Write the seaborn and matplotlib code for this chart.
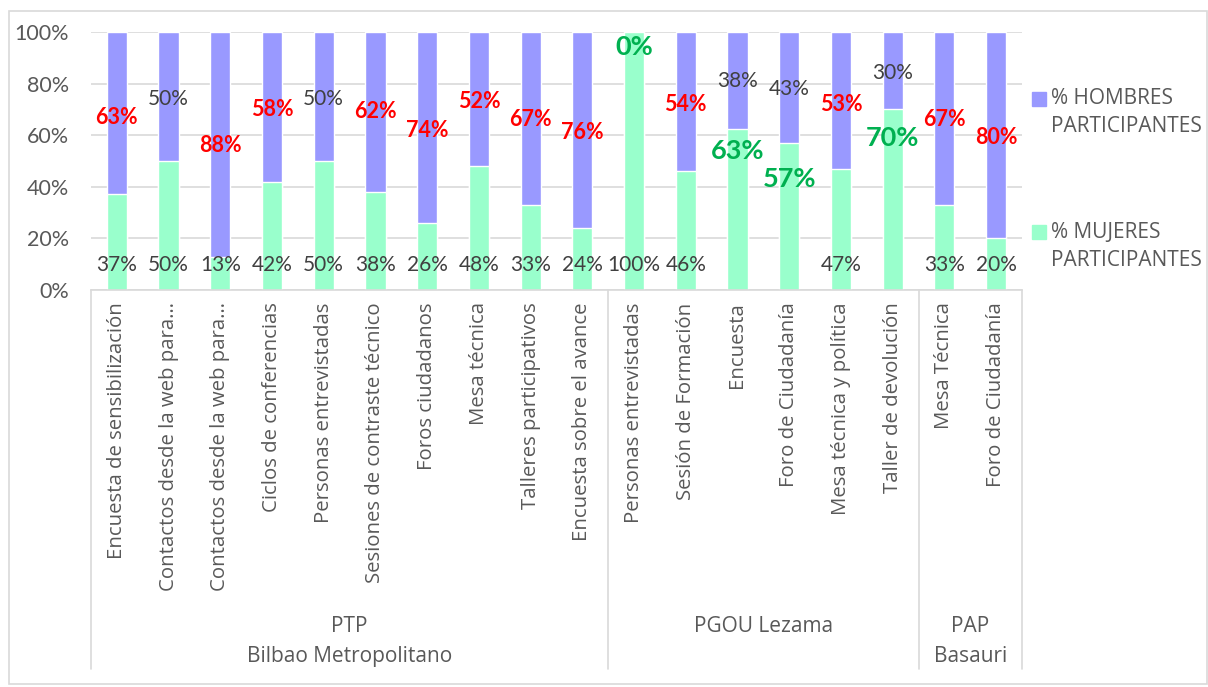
import matplotlib
matplotlib.use('Agg')
from matplotlib import pyplot as plt
from matplotlib.patches import Rectangle
import seaborn as sns
import pandas as pd

#### DATA #####################################################################

categorias = ['Encuesta de sensibilización', 'Contactos desde la web para…',
              'Contactos desde la web para…', 'Ciclos de conferencias',
              'Personas entrevistadas', 'Sesiones de contraste técnico',
              'Foros ciudadanos', 'Mesa técnica', 'Talleres participativos',
              'Encuesta sobre el avance',
              'Personas entrevistadas', 'Sesión de Formación', 'Encuesta',
              'Foro de Ciudadanía', 'Mesa técnica y política', 'Taller de devolución',
              'Mesa Técnica', 'Foro de Ciudadanía']
mujeres = [37, 50, 13, 42, 50, 38, 26, 48, 33, 24, 100, 46, 63, 57, 47, 70, 33, 20]
hombres = [63, 50, 88, 58, 50, 62, 74, 52, 67, 76, 0, 54, 38, 43, 53, 30, 67, 80]
grupos = ['PTP\nBilbao Metropolitano', 'PGOU Lezama', 'PAP\nBasauri']
n_grupo = [10, 6, 2]
yticks = [0, 20, 40, 60, 80, 100]
ley_h = '% HOMBRES\nPARTICIPANTES'
ley_m = '% MUJERES\nPARTICIPANTES'

# where the labels sit (placed by hand in the original), in % of axis
pos_h = [67, 74, 56, 70, 74, 69, 62, 73, 66, 61, 94, 72, 81, 78, 72, 84, 66, 59]
pos_m = [9.5] * 12 + [54, 43, 9.5, 59, 9.5, 9.5]
# label style: r = red bold, g = big green bold, n = plain grey
est_h = ['r', 'n', 'r', 'r', 'n', 'r', 'r', 'r', 'r', 'r', 'g', 'r', 'n', 'n', 'r', 'n', 'r', 'r']
est_m = ['n'] * 12 + ['g', 'g', 'n', 'g', 'n', 'n']

#### PLOT #####################################################################

sns.set_theme(style='white')
plt.rcParams['font.family'] = ['Open Sans', 'DejaVu Sans']

df = pd.DataFrame({'pos': range(len(categorias)), 'm': mujeres, 'h': hombres})
df['total'] = 100 * (df.m + df.h) / (df.m + df.h)
df['pct_m'] = 100 * df.m / (df.m + df.h)

fig = plt.figure(figsize=(12.08, 6.87), dpi=100)
ax = fig.add_axes([0.0753, 0.578, 0.7707, 0.3754])

sns.barplot(data=df, x='pos', y='total', color='#9999FF', saturation=1,
            width=0.39, errorbar=None, ax=ax)
sns.barplot(data=df, x='pos', y='pct_m', color='#99FFCC', saturation=1,
            width=0.39, errorbar=None, ax=ax)

ax.set_xlim(-0.5, len(categorias) - 0.5)
ax.set_ylim(0, 100)
ax.set_xlabel('')
ax.set_ylabel('')
ax.set_axisbelow(True)
ax.yaxis.grid(True, color='#D9D9D9', lw=1.2)
for s in ['top', 'right', 'left']:
    ax.spines[s].set_visible(False)
ax.spines['bottom'].set_color('#D9D9D9')
ax.spines['bottom'].set_linewidth(1.2)

ax.set_yticks(yticks)
ax.set_yticklabels([f'{v}%' for v in yticks], fontsize=15.5, color='#595959',
                   family=['Lato', 'DejaVu Sans'])
ax.set_xticks(range(len(categorias)))
ax.set_xticklabels(categorias, rotation=90, va='top', ha='center',
                   fontsize=14.7, color='#595959')
ax.tick_params(axis='x', length=0, pad=9)
ax.tick_params(axis='y', length=0, pad=16)

estilos = {'r': dict(color='#FF0000', fontweight='bold', fontsize=15.5),
           'g': dict(color='#00B050', fontweight='bold', fontsize=19.5),
           'n': dict(color='#404040', fontsize=15)}
for i in range(len(categorias)):
    ax.text(i, pos_h[i], f'{hombres[i]}%', ha='center', va='center',
            family=['Lato', 'DejaVu Sans'], **estilos[est_h[i]])
    ax.text(i, pos_m[i], f'{mujeres[i]}%', ha='center', va='center',
            family=['Lato', 'DejaVu Sans'], **estilos[est_m[i]])

# group separators and group names below the category labels
bordes = [-0.5]
for n in n_grupo:
    bordes.append(bordes[-1] + n)
for b in bordes:
    ax.plot([b, b], [0, -147], color='#D9D9D9', lw=1.2, clip_on=False)
for g, a, b in zip(grupos, bordes[:-1], bordes[1:]):
    for j, linea in enumerate(g.split('\n')):
        ax.text((a + b) / 2, -130.6 - 11.6 * j, linea, ha='center', va='center',
                fontsize=15, color='#595959')

# legend, square aligned with the first text line like Excel does
for etiqueta, color, y0 in [(ley_h, '#9999FF', 99), (ley_m, '#99FFCC', 232)]:
    fig.patches.append(Rectangle((1032 / 1208, 1 - (y0 + 7) / 687), 14 / 1208, 14 / 687,
                                 transform=fig.transFigure, color=color))
    for j, linea in enumerate(etiqueta.split('\n')):
        fig.text(1051 / 1208, 1 - (y0 + 28 * j) / 687, linea, ha='left', va='center',
                 fontsize=15, color='#595959')

fig.patches.append(Rectangle((9 / 1208, 1 - 684 / 687), 1198 / 1208, 673 / 687,
                             transform=fig.transFigure, fill=False,
                             edgecolor='#D9D9D9', lw=1.2))

fig.savefig('out.png', dpi=100)
